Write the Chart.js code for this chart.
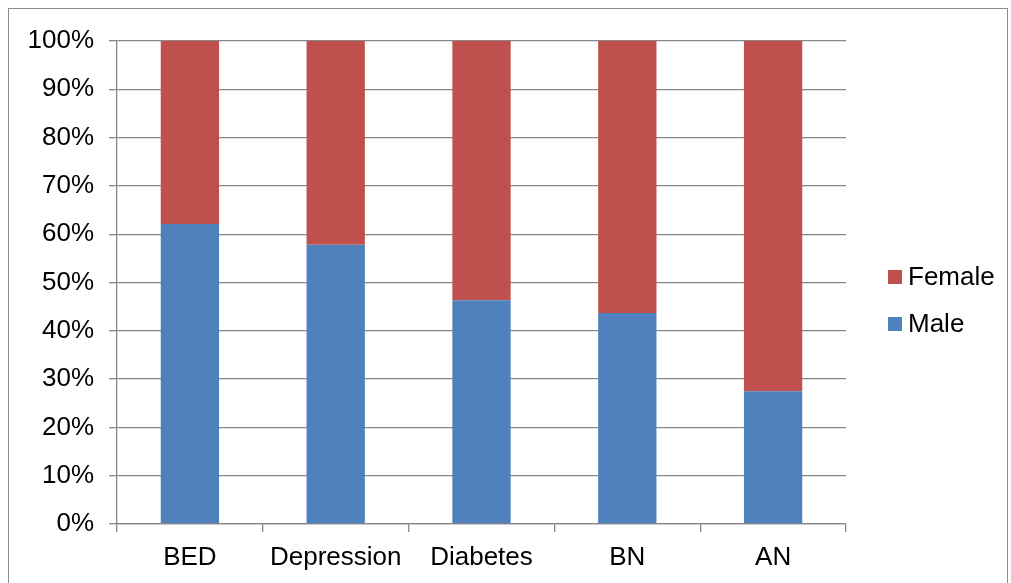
<!DOCTYPE html>
<html>
<head>
<meta charset="utf-8">
<script src="https://cdn.jsdelivr.net/npm/chart.js@4/dist/chart.umd.min.js"></script>
<style>
html,body{margin:0;padding:0;background:#fff;}
#wrap{position:relative;width:1011px;height:583px;}
</style>
</head>
<body>
<div id="wrap"><canvas id="c" width="1011" height="583"></canvas></div>
<script>
const categories = ["BED", "Depression", "Diabetes", "BN", "AN"];
const maleValues = [62.1, 57.8, 46.3, 43.7, 27.5];
const femaleValues = [37.9, 42.2, 53.7, 56.3, 72.5];
const yTicks = [0,10,20,30,40,50,60,70,80,90,100];

const FONT = "'Liberation Sans', Arial, sans-serif";
const GRID = '#878787';

const framePlugin = {
  id: 'frame',
  afterDraw(chart) {
    const ctx = chart.ctx;
    ctx.save();
    ctx.strokeStyle = '#8c8c8c';
    ctx.lineWidth = 1;
    ctx.strokeRect(8.5, 8.5, 999, 580);
    const ds = chart.data.datasets.slice().reverse();
    ctx.font = '26px ' + FONT;
    ctx.textBaseline = 'middle';
    ctx.textAlign = 'left';
    ds.forEach((d, i) => {
      const y = 270 + i * 47;
      ctx.fillStyle = d.backgroundColor;
      ctx.fillRect(888, y, 14, 14);
      ctx.fillStyle = '#000';
      ctx.fillText(d.label, 908, y + 8);
    });
    ctx.restore();
  }
};

new Chart(document.getElementById('c'), {
  type: 'bar',
  data: {
    labels: categories,
    datasets: [
      { label: 'Male', data: maleValues, backgroundColor: '#4F81BD', borderWidth: 0 },
      { label: 'Female', data: femaleValues, backgroundColor: '#C0504D', borderWidth: 0 }
    ]
  },
  options: {
    responsive: false,
    animation: false,
    devicePixelRatio: 1,
    layout: { padding: { top: 41, right: 165, left: 0, bottom: 0 } },
    datasets: { bar: { barPercentage: 0.4, categoryPercentage: 1.0 } },
    plugins: { legend: { display: false }, tooltip: { enabled: false } },
    scales: {
      x: {
        stacked: true,
        grid: { offset: true, drawOnChartArea: false, drawTicks: true, tickLength: 8, color: GRID, lineWidth: 1.3 },
        border: { color: GRID, width: 1.3 },
        ticks: { color: '#000', font: { family: FONT, size: 26 }, padding: 10, maxRotation: 0 },
        afterFit(s) { s.height = 59; }
      },
      y: {
        stacked: true,
        min: 0, max: 100,
        afterBuildTicks(s) { s.ticks = yTicks.map(v => ({ value: v })); },
        grid: { color: GRID, lineWidth: 1.3, tickLength: 8 },
        border: { color: GRID, width: 1.3 },
        ticks: { color: '#000', font: { family: FONT, size: 26 }, padding: 15, callback: v => v + '%' },
        afterFit(s) { s.width = 117; }
      }
    }
  },
  plugins: [framePlugin]
});
</script>
</body>
</html>
